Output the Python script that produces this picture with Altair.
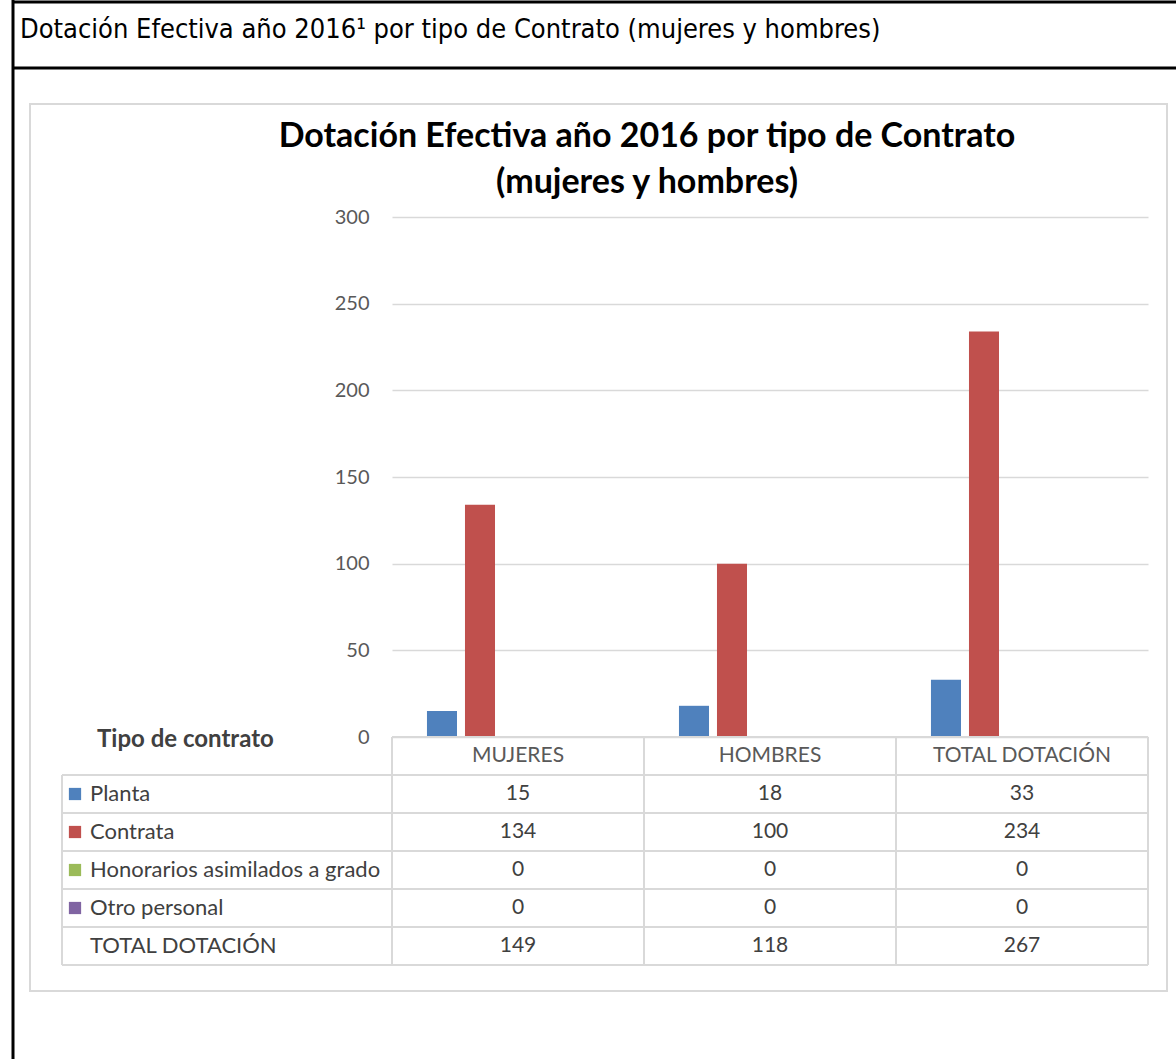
import altair as alt
import pandas as pd

# ---------------- data ----------------
categories = ["MUJERES", "HOMBRES", "TOTAL DOTACIÓN"]
series_names = ["Planta", "Contrata", "Honorarios asimilados a grado", "Otro personal", "TOTAL DOTACIÓN"]
planta = [15, 18, 33]
contrata = [134, 100, 234]
honorarios = [0, 0, 0]
otro_personal = [0, 0, 0]
total_dotacion = [149, 118, 267]
series_colors = ["#4F81BD", "#C0504D", "#9BBB59", "#8064A2"]
y_ticks = [0, 50, 100, 150, 200, 250, 300]

page_heading = "Dotación Efectiva año 2016¹ por tipo de Contrato (mujeres y hombres)"
chart_title_1 = "Dotación Efectiva año 2016 por tipo de Contrato"
chart_title_2 = "(mujeres y hombres)"
table_heading = "Tipo de contrato"

values_by_series = [planta, contrata, honorarios, otro_personal, total_dotacion]
records = []
for s, vals in zip(series_names, values_by_series):
    for c, v in zip(categories, vals):
        records.append({"series": s, "cat": c, "value": v})
df = pd.DataFrame(records)
bars_df = df[df["series"] != "TOTAL DOTACIÓN"]

HEADER = "__header__"
row_keys = [HEADER] + series_names

# ---------------- layout ----------------
W, H = 756, 520
PAD_L, PAD_T = 392, 217
ROW_TOP, ROW_BOTTOM = H, H + 228
TABLE_LEFT = -330
FONT = "Lato"
GRID = "#D9D9D9"
TXT = "#404040"
TFS = 21

xscale = alt.Scale(domain=categories, paddingInner=0, paddingOuter=0)
rowscale = alt.Scale(domain=row_keys, range=[ROW_TOP, ROW_BOTTOM], paddingInner=0, paddingOuter=0)
colorscale = alt.Scale(domain=series_names[:4], range=series_colors)

one = pd.DataFrame({"k": [0]})

# chart outer border
chart_border = alt.Chart(one).mark_rect(filled=False, stroke="#D9D9D9", strokeWidth=2).encode(
    x=alt.value(-362), x2=alt.value(775), y=alt.value(-113), y2=alt.value(774)
)

bars = alt.Chart(bars_df).mark_bar().encode(
    x=alt.X("cat:N", scale=xscale, axis=None),
    xOffset=alt.XOffset("series:N", scale=alt.Scale(domain=series_names, paddingInner=0.21, paddingOuter=0.92)),
    y=alt.Y("value:Q", scale=alt.Scale(domain=[0, 300]),
            axis=alt.Axis(values=y_ticks, grid=True, gridColor=GRID, gridWidth=1.5, domain=False, ticks=False,
                          labelFontSize=20, labelColor="#595959", labelFont=FONT, labelPadding=23, title=None)),
    color=alt.Color("series:N", scale=colorscale, legend=None),
)

# table: horizontal lines
hrow_df = pd.DataFrame({"series": series_names})
hlines = alt.Chart(hrow_df).mark_rule(color=GRID, strokeWidth=2).encode(
    y=alt.Y("series:N", scale=rowscale, axis=None, bandPosition=0),
    x=alt.value(TABLE_LEFT), x2=alt.value(W),
)
hline_bottom = alt.Chart(pd.DataFrame({"series": [series_names[-1]]})).mark_rule(color=GRID, strokeWidth=2).encode(
    y=alt.Y("series:N", scale=rowscale, axis=None, bandPosition=1),
    x=alt.value(TABLE_LEFT), x2=alt.value(W),
)
hline_header = alt.Chart(pd.DataFrame({"series": [HEADER]})).mark_rule(color=GRID, strokeWidth=2).encode(
    y=alt.Y("series:N", scale=rowscale, axis=None, bandPosition=0),
    x=alt.value(0), x2=alt.value(W),
)
# table: vertical lines
vcols = alt.Chart(pd.DataFrame({"cat": categories})).mark_rule(color=GRID, strokeWidth=2).encode(
    x=alt.X("cat:N", scale=xscale, axis=None, bandPosition=0),
    y=alt.value(ROW_TOP), y2=alt.value(ROW_BOTTOM),
)
vcol_right = alt.Chart(pd.DataFrame({"cat": [categories[-1]]})).mark_rule(color=GRID, strokeWidth=2).encode(
    x=alt.X("cat:N", scale=xscale, axis=None, bandPosition=1),
    y=alt.value(ROW_TOP), y2=alt.value(ROW_BOTTOM),
)
vcol_left = alt.Chart(one).mark_rule(color=GRID, strokeWidth=2).encode(
    x=alt.value(TABLE_LEFT), y=alt.value(ROW_TOP + 38), y2=alt.value(ROW_BOTTOM),
)

# table: header texts
header_df = pd.DataFrame({"cat": categories, "series": [HEADER] * 3})
header_text = alt.Chart(header_df).mark_text(font=FONT, fontSize=TFS, color="#595959", baseline="middle").encode(
    x=alt.X("cat:N", scale=xscale, axis=None),
    y=alt.Y("series:N", scale=rowscale, axis=None),
    text="cat:N",
)
value_text = alt.Chart(df).mark_text(font=FONT, fontSize=TFS, color=TXT, baseline="middle").encode(
    x=alt.X("cat:N", scale=xscale, axis=None),
    y=alt.Y("series:N", scale=rowscale, axis=None),
    text="value:Q",
)
row_labels = alt.Chart(pd.DataFrame({"series": series_names})).mark_text(
    font=FONT, fontSize=22, color=TXT, align="left", baseline="middle").encode(
    x=alt.value(-302),
    y=alt.Y("series:N", scale=rowscale, axis=None),
    text="series:N",
)
legend_keys = alt.Chart(pd.DataFrame({"series": series_names[:4]})).mark_square(size=150, opacity=1).encode(
    x=alt.value(-317),
    y=alt.Y("series:N", scale=rowscale, axis=None),
    color=alt.Color("series:N", scale=colorscale, legend=None),
)
tipo = alt.Chart(one).mark_text(font=FONT, fontSize=24, fontWeight="bold", color=TXT, align="left",
                                baseline="middle", text=table_heading).encode(
    x=alt.value(-295), y=alt.value(523)
)

# titles
t1 = alt.Chart(one).mark_text(font=FONT, fontSize=34, fontWeight="bold", color="#000000", align="center",
                              baseline="middle", text=chart_title_1).encode(x=alt.value(255), y=alt.value(-80))
t2 = alt.Chart(one).mark_text(font=FONT, fontSize=34, fontWeight="bold", color="#000000", align="center",
                              baseline="middle", text=chart_title_2).encode(x=alt.value(255), y=alt.value(-34))
heading = alt.Chart(one).mark_text(font="Liberation Sans Narrow, DejaVu Sans Condensed, Liberation Sans",
                                   fontSize=27, color="#000000", align="left",
                                   baseline="middle", text=page_heading).encode(x=alt.value(-372), y=alt.value(-187))

# black frame
frame_left = alt.Chart(one).mark_rule(color="black", strokeWidth=3).encode(
    x=alt.value(-379), y=alt.value(-217), y2=alt.value(842))
frame_top = alt.Chart(one).mark_rule(color="black", strokeWidth=3).encode(
    y=alt.value(-215), x=alt.value(-380), x2=alt.value(784))
frame_mid = alt.Chart(one).mark_rule(color="black", strokeWidth=3).encode(
    y=alt.value(-149), x=alt.value(-380), x2=alt.value(784))

chart = alt.layer(
    chart_border, bars, hlines, hline_bottom, hline_header, vcols, vcol_right, vcol_left,
    header_text, value_text, row_labels, legend_keys, tipo, t1, t2, heading,
    frame_left, frame_top, frame_mid,
).resolve_scale(y="independent").properties(
    width=W, height=H,
    padding={"left": PAD_L, "top": PAD_T, "right": 1176 - PAD_L - W, "bottom": 1059 - PAD_T - H},
    autosize=alt.AutoSizeParams(type="none"),
    background="white",
).configure_view(stroke=None)

chart.save("out.html", embed_options={"renderer": "svg", "actions": False})
